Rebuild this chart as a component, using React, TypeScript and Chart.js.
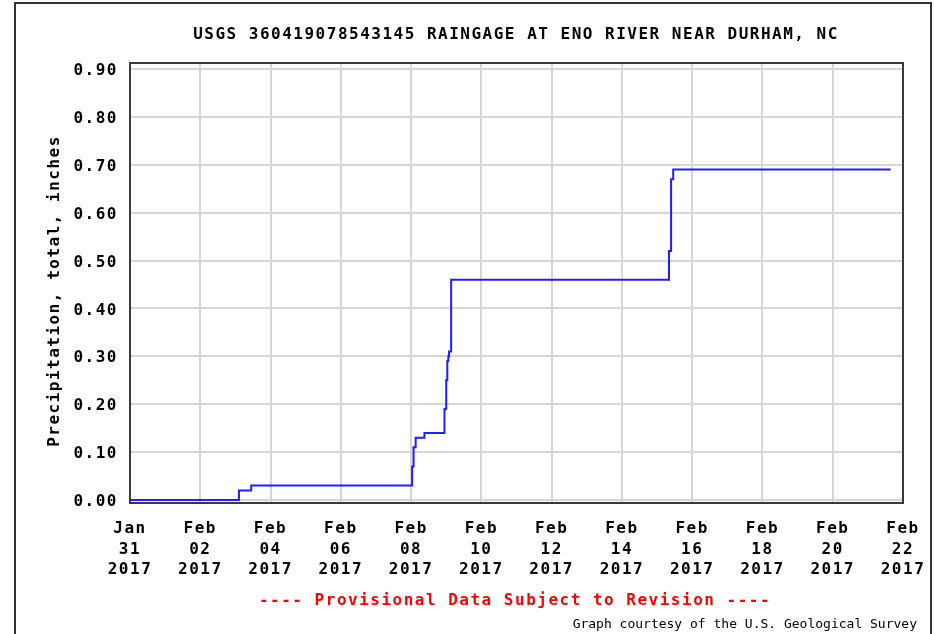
import React, { useEffect, useRef } from 'react';
import { Chart, registerables } from 'chart.js';

Chart.register(...registerables);

const TITLE = 'USGS 360419078543145 RAINGAGE AT ENO RIVER NEAR DURHAM, NC';
const Y_TITLE = 'Precipitation, total, inches';
const NOTE = '---- Provisional Data Subject to Revision ----';
const CREDIT = 'Graph courtesy of the U.S. Geological Survey';

// time of each reading, in days after Jan 31 2017 00:00
const obsDays = [0, 3.1, 3.45, 8.03, 8.07, 8.13, 8.38, 8.95, 9.0, 9.03, 9.06, 9.08, 9.14, 15.34, 15.4, 15.46, 21.65];
// cumulative precipitation, inches
const obsTotals = [0.0, 0.02, 0.03, 0.07, 0.11, 0.13, 0.14, 0.19, 0.25, 0.29, 0.3, 0.31, 0.46, 0.52, 0.67, 0.69, 0.69];

const xTickDays = [0, 2, 4, 6, 8, 10, 12, 14, 16, 18, 20, 22];
const xTickLabels = [
  ['Jan', '31', '2017'],
  ['Feb', '02', '2017'],
  ['Feb', '04', '2017'],
  ['Feb', '06', '2017'],
  ['Feb', '08', '2017'],
  ['Feb', '10', '2017'],
  ['Feb', '12', '2017'],
  ['Feb', '14', '2017'],
  ['Feb', '16', '2017'],
  ['Feb', '18', '2017'],
  ['Feb', '20', '2017'],
  ['Feb', '22', '2017'],
];
const yTickValues = [0, 0.1, 0.2, 0.3, 0.4, 0.5, 0.6, 0.7, 0.8, 0.9];

const MONO = '"DejaVu Sans Mono", monospace';

const framePlugin = {
  id: 'usgsFrame',
  beforeDraw(chart: any) {
    chart.ctx.letterSpacing = '1.5px';
  },
  beforeDatasetsDraw(chart: any) {
    const { ctx, chartArea: a } = chart;
    ctx.save();
    ctx.strokeStyle = '#3a3a3a';
    ctx.lineWidth = 2;
    ctx.strokeRect(a.left, a.top, a.right - a.left, a.bottom - a.top);
    ctx.restore();
  },
  afterDraw(chart: any) {
    const { ctx } = chart;
    ctx.save();
    ctx.strokeStyle = '#333333';
    ctx.lineWidth = 2;
    ctx.beginPath();
    ctx.moveTo(15, 650);
    ctx.lineTo(15, 3);
    ctx.lineTo(931, 3);
    ctx.lineTo(931, 650);
    ctx.stroke();

    ctx.letterSpacing = '1.5px';
    ctx.font = `bold 16px ${MONO}`;
    ctx.textAlign = 'center';
    ctx.textBaseline = 'middle';
    ctx.fillStyle = '#000000';
    ctx.fillText(TITLE, 516, 35);

    ctx.fillStyle = '#ff0000';
    ctx.fillText(NOTE, 515, 601);

    ctx.save();
    ctx.fillStyle = '#000000';
    ctx.translate(55, 291);
    ctx.rotate(-Math.PI / 2);
    ctx.fillText(Y_TITLE, 0, 0);
    ctx.restore();

    ctx.letterSpacing = '0px';
    ctx.font = `13px ${MONO}`;
    ctx.textAlign = 'right';
    ctx.fillStyle = '#000000';
    ctx.fillText(CREDIT, 917, 625);
    ctx.restore();
  },
};

export default function App() {
  const ref = useRef<HTMLCanvasElement | null>(null);

  useEffect(() => {
    if (!ref.current) return;
    const chart = new Chart(ref.current, {
      type: 'line',
      data: {
        datasets: [
          {
            data: obsDays.map((d, i) => ({ x: d, y: obsTotals[i] })),
            borderColor: '#1e1eff',
            borderWidth: 2,
            pointRadius: 0,
            stepped: true,
            fill: false,
          },
        ],
      },
      options: {
        responsive: false,
        animation: false,
        devicePixelRatio: 1,
        layout: { padding: { top: 63, right: 31, left: 0, bottom: 0 } },
        plugins: {
          legend: { display: false },
          tooltip: { enabled: false },
          title: { display: false },
        },
        scales: {
          x: {
            type: 'linear',
            min: 0,
            max: 22,
            afterBuildTicks: (s: any) => {
              s.ticks = xTickDays.map((v) => ({ value: v }));
            },
            afterFit: (s: any) => {
              s.height = 131;
              s.paddingLeft = 0;
              s.paddingRight = 0;
            },
            grid: { color: '#d6d6d6', lineWidth: 2, drawTicks: false },
            border: { display: false },
            ticks: {
              autoSkip: false,
              maxRotation: 0,
              minRotation: 0,
              padding: 16,
              color: '#000000',
              font: { family: MONO, size: 16, weight: 'bold', lineHeight: '20.5px' } as any,
              callback: (v: any) => xTickLabels[xTickDays.indexOf(Number(v))],
            },
          },
          y: {
            type: 'linear',
            min: -0.0063,
            max: 0.9125,
            afterBuildTicks: (s: any) => {
              s.ticks = yTickValues.map((v) => ({ value: v }));
            },
            afterFit: (s: any) => {
              s.width = 130;
              s.paddingTop = 0;
              s.paddingBottom = 0;
            },
            grid: { color: '#d6d6d6', lineWidth: 2, drawTicks: false },
            border: { display: false },
            ticks: {
              padding: 12,
              labelOffset: 2,
              color: '#000000',
              font: { family: MONO, size: 16, weight: 'bold' },
              callback: (v: any) => Number(v).toFixed(2),
            },
          },
        },
      },
      plugins: [framePlugin],
    });
    return () => chart.destroy();
  }, []);

  return (
    <div style={{ position: 'fixed', left: 0, top: 0, width: 934, height: 634, background: '#ffffff' }}>
      <canvas ref={ref} width={934} height={634} style={{ display: 'block', width: 934, height: 634 }} />
    </div>
  );
}
